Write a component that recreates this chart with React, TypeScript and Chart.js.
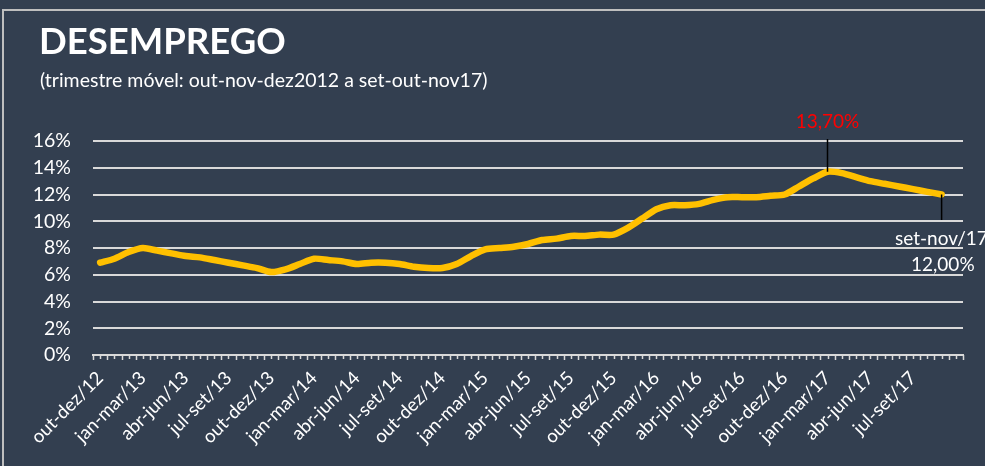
import React, { useEffect, useRef } from "react";
import { Chart, registerables } from "chart.js";

Chart.register(...registerables);

// moving quarter labels: "out-dez/12" ... "set-nov/17", plus one empty slot
const categories: string[] = [
  "out-dez/12",
  "nov-jan/13", "dez-fev/13", "jan-mar/13", "fev-abr/13", "mar-mai/13", "abr-jun/13", "mai-jul/13", "jun-ago/13", "jul-set/13", "ago-out/13", "set-nov/13", "out-dez/13",
  "nov-jan/14", "dez-fev/14", "jan-mar/14", "fev-abr/14", "mar-mai/14", "abr-jun/14", "mai-jul/14", "jun-ago/14", "jul-set/14", "ago-out/14", "set-nov/14", "out-dez/14",
  "nov-jan/15", "dez-fev/15", "jan-mar/15", "fev-abr/15", "mar-mai/15", "abr-jun/15", "mai-jul/15", "jun-ago/15", "jul-set/15", "ago-out/15", "set-nov/15", "out-dez/15",
  "nov-jan/16", "dez-fev/16", "jan-mar/16", "fev-abr/16", "mar-mai/16", "abr-jun/16", "mai-jul/16", "jun-ago/16", "jul-set/16", "ago-out/16", "set-nov/16", "out-dez/16",
  "nov-jan/17", "dez-fev/17", "jan-mar/17", "fev-abr/17", "mar-mai/17", "abr-jun/17", "mai-jul/17", "jun-ago/17", "jul-set/17", "ago-out/17", "set-nov/17",
  "",
];

const desemprego: (number | null)[] = [
  6.9,
  7.2, 7.7, 8.0, 7.8, 7.6, 7.4, 7.3, 7.1, 6.9, 6.7, 6.5, 6.2,
  6.4, 6.8, 7.2, 7.1, 7.0, 6.8, 6.9, 6.9, 6.8, 6.6, 6.5, 6.5,
  6.8, 7.4, 7.9, 8.0, 8.1, 8.3, 8.6, 8.7, 8.9, 8.9, 9.0, 9.0,
  9.5, 10.2, 10.9, 11.2, 11.2, 11.3, 11.6, 11.8, 11.8, 11.8, 11.9, 12.0,
  12.6, 13.2, 13.7, 13.6, 13.3, 13.0, 12.8, 12.6, 12.4, 12.2, 12.0,
  null,
];

const yTicks = [0, 2, 4, 6, 8, 10, 12, 14, 16];

const titleText = "DESEMPREGO";
const subtitleText = "(trimestre móvel: out-nov-dez2012 a set-out-nov17)";
const peakLabel = "13,70%";
const peakIndex = 51;
const lastIndex = 59;
const lastLabelCat = "set-nov/17";
const lastLabelVal = "12,00%";

const BG = "#333F50";
const FG = "#FFFFFF";
const GRID = "#D9D9D9";
const FONT = "Lato, 'Open Sans', sans-serif";

export default function App() {
  const ref = useRef<HTMLCanvasElement>(null);

  useEffect(() => {
    document.body.style.margin = "0";
    document.body.style.background = BG;
    const canvas = ref.current!;

    const decor = {
      id: "decor",
      beforeDraw(chart: any) {
        const { ctx, width, height } = chart;
        ctx.save();
        ctx.fillStyle = BG;
        ctx.fillRect(0, 0, width, height);
        // border
        ctx.strokeStyle = "#BFBFBF";
        ctx.lineWidth = 2;
        ctx.beginPath();
        ctx.moveTo(3, height);
        ctx.lineTo(3, 10);
        ctx.lineTo(width, 10);
        ctx.stroke();
        // title
        ctx.fillStyle = FG;
        ctx.textBaseline = "alphabetic";
        ctx.textAlign = "left";
        ctx.font = `bold 36.5px ${FONT}`;
        ctx.fillText(titleText, 39, 54);
        ctx.font = `19.5px ${FONT}`;
        ctx.fillText(subtitleText, 40, 87);
        ctx.restore();
      },
      afterDraw(chart: any) {
        const { ctx } = chart;
        const x = chart.scales.x;
        const y = chart.scales.y;
        ctx.save();
        // x-axis tick marks
        const n = categories.length;
        const left = x.left;
        const right = x.right;
        const step = (right - left) / (n * 2);
        ctx.strokeStyle = GRID;
        ctx.lineWidth = 1.5;
        const base = y.getPixelForValue(0);
        for (let i = 0; i <= n * 2; i++) {
          const px = Math.round(left + i * step) + 0.5;
          const len = i % 2 === 0 ? 5 : 4;
          ctx.beginPath();
          ctx.moveTo(px, base);
          ctx.lineTo(px, base + len);
          ctx.stroke();
        }
        // peak annotation
        const px = x.getPixelForValue(peakIndex);
        const py = y.getPixelForValue(desemprego[peakIndex] as number);
        ctx.strokeStyle = "#000000";
        ctx.lineWidth = 1.5;
        ctx.beginPath();
        ctx.moveTo(px, 139);
        ctx.lineTo(px, py);
        ctx.stroke();
        ctx.fillStyle = "#FF0000";
        ctx.font = `19px ${FONT}`;
        ctx.textAlign = "center";
        ctx.textBaseline = "middle";
        ctx.fillText(peakLabel, px, 122);
        // last point annotation
        const lx = x.getPixelForValue(lastIndex);
        const ly = y.getPixelForValue(desemprego[lastIndex] as number);
        ctx.beginPath();
        ctx.moveTo(lx, ly);
        ctx.lineTo(lx, 220);
        ctx.stroke();
        ctx.fillStyle = FG;
        ctx.textAlign = "left";
        ctx.fillText(lastLabelCat, 895, 239);
        ctx.fillText(lastLabelVal, 911, 265);
        ctx.restore();
      },
    };

    const chart = new Chart(canvas, {
      type: "line",
      data: {
        labels: categories,
        datasets: [
          {
            data: desemprego,
            borderColor: "#FFC000",
            borderWidth: 6.5,
            pointRadius: 0,
            tension: 0.25,
            fill: false,
            borderCapStyle: "round",
            borderJoinStyle: "round",
          },
        ],
      },
      options: {
        animation: false,
        responsive: false,
        maintainAspectRatio: false,
        devicePixelRatio: 1,
        layout: { padding: { left: 0, top: 141, right: 22, bottom: 0 } },
        plugins: {
          legend: { display: false },
          tooltip: { enabled: false },
        },
        scales: {
          x: {
            type: "category",
            offset: true,
            grid: { display: false, drawTicks: false },
            border: { display: true, color: GRID, width: 2 },
            ticks: {
              autoSkip: false,
              maxRotation: 45,
              minRotation: 45,
              padding: 12,
              color: FG,
              font: { family: FONT, size: 18.5 },
              callback: (_v: any, i: number) => (i % 3 === 0 && categories[i] ? categories[i] : null),
            },
            afterFit: (s: any) => {
              s.height = 111;
            },
          },
          y: {
            min: 0,
            max: 16,
            afterBuildTicks: (s: any) => {
              s.ticks = yTicks.map((v) => ({ value: v }));
            },
            grid: { color: GRID, lineWidth: 2, drawTicks: false },
            border: { display: false },
            ticks: {
              padding: 22,
              color: FG,
              font: { family: FONT, size: 19.5 },
              callback: (v: any) => `${v}%`,
            },
            afterFit: (s: any) => {
              s.width = 93;
            },
          },
        },
      },
      plugins: [decor],
    } as any);

    return () => chart.destroy();
  }, []);

  return <canvas ref={ref} width={985} height={466} style={{ display: "block" }} />;
}
